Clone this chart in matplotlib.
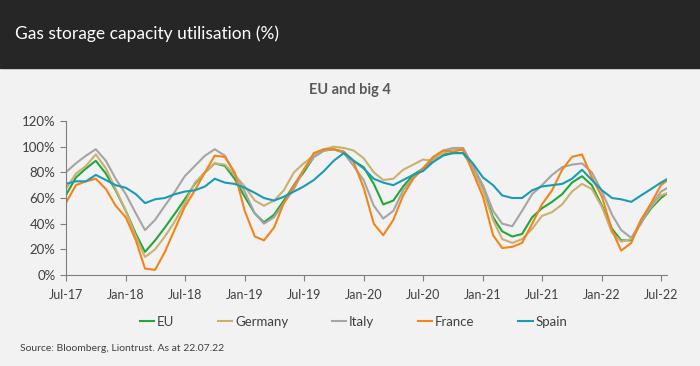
import matplotlib
matplotlib.use("Agg")
import matplotlib.pyplot as plt
import matplotlib.dates as mdates
from matplotlib.patches import Rectangle
from matplotlib.ticker import PercentFormatter
import pandas as pd

plt.rcParams['font.family'] = ['Lato', 'DejaVu Sans']

# monthly readings, 1 Jul 2017 .. 1 Jul 2022, then the 22 Jul 2022 print
dates = list(pd.date_range('2017-07-01', '2022-07-01', freq='MS')) + [pd.Timestamp('2022-07-22')]

eu = [62, 76, 83, 89, 79, 66, 50, 32, 18, 27, 37, 48,
      59, 71, 80, 87, 85, 75, 61, 48, 41, 47, 58, 70,
      80, 92, 97, 98, 96, 89, 84, 71, 55, 58, 69, 78,
      83, 89, 94, 95, 95, 84, 67, 45, 34, 30, 32, 45,
      52, 57, 63, 72, 77, 70, 54, 36, 27, 27, 41, 52,
      60, 64]
germany = [67, 79, 85, 94, 83, 67, 50, 30, 14, 20, 30, 42,
           56, 72, 80, 87, 86, 78, 69, 58, 54, 58, 66, 80,
           87, 93, 98, 100, 99, 97, 91, 80, 74, 75, 82, 86,
           90, 89, 95, 98, 97, 83, 66, 43, 28, 25, 28, 36,
           46, 49, 55, 65, 71, 67, 53, 33, 26, 28, 43, 53,
           62, 64]
italy = [80, 87, 93, 98, 89, 75, 63, 48, 35, 43, 54, 65,
         77, 85, 93, 98, 93, 79, 65, 48, 40, 45, 56, 67,
         82, 92, 97, 98, 95, 85, 74, 54, 44, 50, 66, 76,
         83, 91, 97, 99, 99, 85, 70, 50, 40, 38, 50, 63,
         70, 78, 84, 86, 87, 80, 65, 47, 35, 29, 40, 54,
         65, 68]
france = [56, 70, 73, 75, 67, 54, 45, 27, 5, 4, 18, 36,
          53, 66, 80, 93, 92, 80, 50, 30, 27, 37, 56, 70,
          82, 95, 98, 98, 96, 88, 68, 40, 31, 43, 62, 75,
          83, 92, 97, 96, 98, 80, 61, 31, 21, 22, 25, 40,
          55, 66, 82, 92, 94, 76, 61, 35, 19, 25, 43, 56,
          70, 74]
spain = [71, 73, 73, 78, 74, 70, 68, 63, 56, 59, 60, 63,
         65, 66, 69, 75, 72, 71, 68, 64, 60, 58, 61, 65,
         69, 74, 81, 89, 95, 89, 83, 75, 72, 70, 74, 78,
         81, 88, 93, 95, 95, 87, 76, 70, 62, 60, 60, 66,
         69, 70, 71, 75, 82, 74, 66, 60, 59, 57, 62, 67,
         72, 75]

series = [('EU', eu, '#22a83a'),
          ('Germany', germany, '#c9b073'),
          ('Italy', italy, '#a5a5a5'),
          ('France', france, '#f28418'),
          ('Spain', spain, '#1a9bb5')]

fig = plt.figure(figsize=(7, 3.66), dpi=100, facecolor='#f2f2f2')
fig.add_artist(Rectangle((0, 0.814), 1, 0.186, transform=fig.transFigure,
                         color='#262626', zorder=0))
fig.text(0.021, 0.907, 'Gas storage capacity utilisation (%)', color='white',
         fontsize=12.5, va='center', ha='left')
fig.text(0.5, 0.754, 'EU and big 4', color='#595959', fontsize=10.5,
         fontweight='bold', ha='center', va='center')

ax = fig.add_axes([0.094, 0.2486, 0.859, 0.4208])
ax.set_facecolor('#f2f2f2')
for name, vals, col in series:
    ax.plot(dates, vals, color=col, lw=1.5, label=name)

ax.set_ylim(0, 120)
ax.set_yticks(range(0, 121, 20))
ax.yaxis.set_major_formatter(PercentFormatter(decimals=0))
ax.set_xlim(pd.Timestamp('2017-07-01'), pd.Timestamp('2022-07-20'))
ax.xaxis.set_major_locator(mdates.MonthLocator(bymonth=[1, 7]))
ax.xaxis.set_major_formatter(mdates.DateFormatter('%b-%y'))

for s in ['top', 'right']:
    ax.spines[s].set_visible(False)
for s in ['left', 'bottom']:
    ax.spines[s].set_color('#7f7f7f')
ax.tick_params(colors='#7f7f7f', labelcolor='#404040', labelsize=9.5, length=4)
ax.tick_params(axis='x', pad=6, labelsize=9)

fig.legend(*ax.get_legend_handles_labels(), loc='center', bbox_to_anchor=(0.505, 0.12),
           ncol=5, frameon=False, fontsize=9.5, handlelength=1.1, handletextpad=0.2,
           columnspacing=3.3, labelcolor='#404040')

fig.text(0.029, 0.049, 'Source: Bloomberg, Liontrust. As at 22.07.22', color='#404040',
         fontsize=7.5, ha='left', va='center')

fig.savefig('out.png', dpi=100, facecolor=fig.get_facecolor())
